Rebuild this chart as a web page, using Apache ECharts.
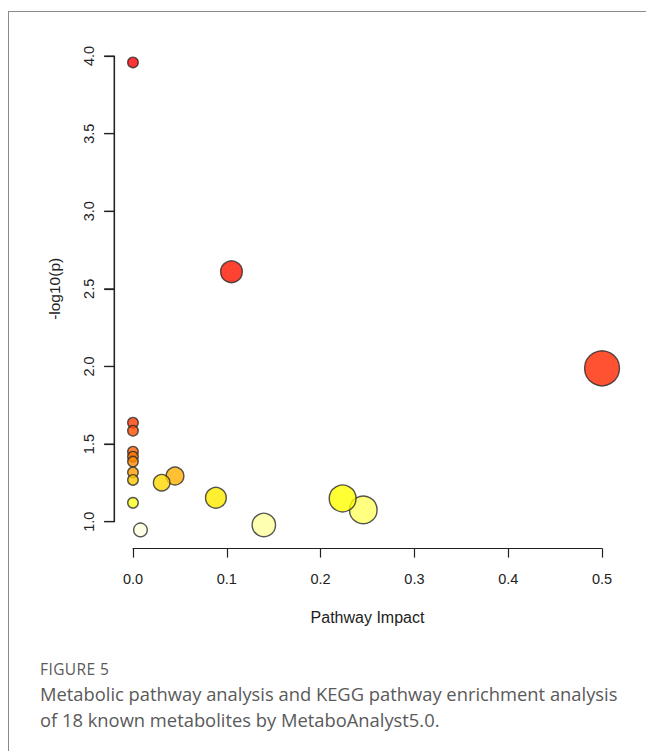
<!DOCTYPE html>
<html>
<head>
<meta charset="utf-8">
<script src="https://cdn.jsdelivr.net/npm/echarts@6/dist/echarts.min.js"></script>
<style>
  html, body { margin: 0; padding: 0; background: #fff; }
  #wrap { position: relative; width: 646px; height: 751px; overflow: hidden; }
  #frame { position: absolute; left: 8px; top: 11px; width: 700px; height: 800px;
           border-top: 1px solid #8a8a8a; border-left: 1px solid #8a8a8a; }
  #chart { position: absolute; left: 0; top: 0; width: 646px; height: 751px; }
  #cap { position: absolute; left: 40px; top: 658px; width: 606px; color: #5a5a5a;
         font-family: "Open Sans", sans-serif; }
  #cap .lab { font-size: 15.5px; letter-spacing: 0.4px; line-height: 22px; }
  #cap .txt { font-size: 18.35px; line-height: 25.5px; margin-top: 1px; }
</style>
</head>
<body>
<div id="wrap">
  <div id="frame"></div>
  <div id="chart"></div>
  <div id="cap">
    <div class="lab">FIGURE 5</div>
    <div class="txt">Metabolic pathway analysis and KEGG pathway enrichment analysis<br>of 18 known metabolites by MetaboAnalyst5.0.</div>
  </div>
</div>
<script>
// ---- data ----
const pathwayImpact = [0, 0.105, 0.5, 0, 0, 0, 0, 0, 0, 0, 0, 0.008, 0.0306, 0.0448, 0.0884, 0.1395, 0.2235, 0.2455];
const negLog10P     = [3.959, 2.61, 1.988, 1.638, 1.586, 1.451, 1.419, 1.387, 1.318, 1.269, 1.122, 0.947, 1.251, 1.294, 1.154, 0.979, 1.150, 1.076];
const xTicks = [0, 0.1, 0.2, 0.3, 0.4, 0.5];
const yTicks = [1.0, 1.5, 2.0, 2.5, 3.0, 3.5, 4.0];
const xTitle = 'Pathway Impact';
const yTitle = '-log10(p)';

// ---- R-like helpers ----
function hsvToHex(h, s, v) {
  const i = Math.floor(h * 6), f = h * 6 - i;
  const p = v * (1 - s), q = v * (1 - f * s), t = v * (1 - (1 - f) * s);
  let r, g, b;
  switch (i % 6) {
    case 0: r = v; g = t; b = p; break;
    case 1: r = q; g = v; b = p; break;
    case 2: r = p; g = v; b = t; break;
    case 3: r = p; g = q; b = v; break;
    case 4: r = t; g = p; b = v; break;
    default: r = v; g = p; b = q;
  }
  const h2 = x => Math.round(x * 255).toString(16).padStart(2, '0');
  return '#' + h2(r) + h2(g) + h2(b);
}
function heatColors(n) {
  const j = Math.floor(n / 4), i = n - j, out = [];
  for (let k = 0; k < i; k++) out.push(hsvToHex((1 / 6) * k / (i - 1), 1, 1));
  for (let k = 0; k < j; k++) {
    const from = 1 - 1 / (2 * j), to = 1 / (2 * j);
    const s = j === 1 ? from : from + (to - from) * k / (j - 1);
    out.push(hsvToHex(1 / 6, s, 1));
  }
  return out;
}
const n = negLog10P.length;
const palette = heatColors(n);
const order = negLog10P.map((v, i) => i).sort((a, b) => negLog10P[b] - negLog10P[a]);
const colorOf = new Array(n);
order.forEach((idx, rank) => { colorOf[idx] = palette[rank]; });

// ---- plot region (R default 4% axis extension) ----
const W = 646, H = 751;
const plot = { left: 114.2, right: 620.8, top: 43.7, bottom: 548.6 };
const xr = [Math.min(...pathwayImpact), Math.max(...pathwayImpact)];
const yr = [Math.min(...negLog10P), Math.max(...negLog10P)];
const xmin = xr[0] - (xr[1] - xr[0]) * 0.04, xmax = xr[1] + (xr[1] - xr[0]) * 0.04;
const ymin = yr[0] - (yr[1] - yr[0]) * 0.04, ymax = yr[1] + (yr[1] - yr[0]) * 0.04;
const px = v => plot.left + (v - xmin) / (xmax - xmin) * (plot.right - plot.left);
const py = v => plot.bottom - (v - ymin) / (ymax - ymin) * (plot.bottom - plot.top);

const x0 = px(xTicks[0]), x1 = px(xTicks[xTicks.length - 1]);
const y0 = py(yTicks[0]), y1 = py(yTicks[yTicks.length - 1]);

const font = '"Liberation Sans", Arial, sans-serif';
const ink = '#222';

const points = pathwayImpact.map((x, i) => ({
  value: [x, negLog10P[i]],
  symbolSize: 10.5 + 34.5 * Math.sqrt(x),
  itemStyle: { color: colorOf[i], borderColor: '#2a2a2a', borderWidth: 1.4 }
}));
// draw larger circles first so small ones stay on top like R's symbols()
points.sort((a, b) => b.symbolSize - a.symbolSize);

const gridBase = { containLabel: false, outerBoundsMode: 'none' };
const chart = echarts.init(document.getElementById('chart'), null, { renderer: 'svg', width: W, height: H });
chart.setOption({
  animation: false,
  backgroundColor: 'transparent',
  grid: [
    Object.assign({ left: plot.left, top: plot.top, width: plot.right - plot.left, height: plot.bottom - plot.top }, gridBase),
    Object.assign({ left: x0, top: plot.top, width: x1 - x0, height: plot.bottom - plot.top }, gridBase),
    Object.assign({ left: plot.left, top: y1, width: plot.right - plot.left, height: y0 - y1 }, gridBase)
  ],
  xAxis: [
    { gridIndex: 0, type: 'value', min: xmin, max: xmax, show: false },
    { gridIndex: 1, type: 'value', min: xTicks[0], max: xTicks[xTicks.length - 1], interval: 0.1,
      axisLine: { show: true, onZero: false, lineStyle: { color: ink, width: 1.2 } },
      axisTick: { show: true, length: 9, lineStyle: { color: ink, width: 1.2 } },
      axisLabel: { fontFamily: font, fontSize: 14.5, color: ink, margin: 23, formatter: v => v.toFixed(1) },
      splitLine: { show: false },
      name: xTitle, nameLocation: 'middle', nameGap: 61,
      nameTextStyle: { fontFamily: font, fontSize: 16, color: ink } },
    { gridIndex: 2, type: 'value', min: 0, max: 1, show: false }
  ],
  yAxis: [
    { gridIndex: 0, type: 'value', min: ymin, max: ymax, show: false },
    { gridIndex: 1, type: 'value', min: ymin, max: ymax, show: false },
    { gridIndex: 2, type: 'value', position: 'left', min: yTicks[0], max: yTicks[yTicks.length - 1], interval: 0.5,
      axisLine: { show: true, onZero: false, lineStyle: { color: ink, width: 1.2 } },
      axisTick: { show: true, length: 10, lineStyle: { color: ink, width: 1.2 } },
      axisLabel: { fontFamily: font, fontSize: 14.5, color: ink, margin: 18, rotate: 90, formatter: v => v.toFixed(1) },
      splitLine: { show: false },
      name: yTitle, nameLocation: 'middle', nameGap: 52,
      nameTextStyle: { fontFamily: font, fontSize: 15.5, color: ink } }
  ],
  series: [{
    type: 'scatter', xAxisIndex: 0, yAxisIndex: 0,
    symbol: 'circle',
    data: points,
    silent: true
  }]
});

// R-style left axis line and ticks, placed through the y axis scale
const axisX = chart.convertToPixel({ gridIndex: 2 }, [0, yTicks[0]])[0];
const tickY = yTicks.map(v => chart.convertToPixel({ yAxisIndex: 2 }, v));
const lineStyle = { stroke: ink, lineWidth: 1.2 };
const axisGraphics = [{
  type: 'line', z: 100, silent: true,
  shape: { x1: axisX, y1: tickY[0], x2: axisX, y2: tickY[tickY.length - 1] },
  style: lineStyle
}].concat(tickY.map(y => ({
  type: 'line', z: 100, silent: true,
  shape: { x1: axisX - 10, y1: y, x2: axisX, y2: y },
  style: lineStyle
})));
chart.setOption({ graphic: axisGraphics });
</script>
</body>
</html>
